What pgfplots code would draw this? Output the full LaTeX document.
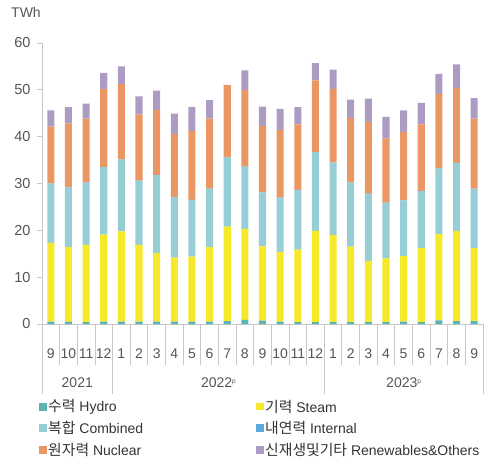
\documentclass[border=0pt]{standalone}
\usepackage{pgfplots}
\pgfplotsset{compat=1.18}
\usepackage{pgfplotstable}
\usepackage{fontspec}
\setmainfont{Liberation Sans}
\newfontfamily\kr[Scale=1.06]{Noto Sans CJK KR}
\definecolor{chydro}{HTML}{5BB3B5}
\definecolor{csteam}{HTML}{F5E92A}
\definecolor{ccomb}{HTML}{97CED5}
\definecolor{cint}{HTML}{5AAADD}
\definecolor{cnuc}{HTML}{EB9764}
\definecolor{cren}{HTML}{AC9CC3}
\definecolor{axgray}{HTML}{C8C8C8}
\definecolor{txtgray}{HTML}{555555}
\definecolor{legtxt}{HTML}{333333}
\newcommand{\fs}{\fontsize{14pt}{16pt}\selectfont}
\newcommand{\fy}{\fontsize{14.5pt}{16pt}\selectfont}
\newcommand{\supp}{\raisebox{4.5pt}{\fontsize{6.5pt}{7pt}\selectfont p}}
\pgfplotstableread{
x hydro steam comb internal nuc ren
0 0.5 16.8 12.7 0.03 12.1 3.5
1 0.5 15.9 12.8 0.03 13.6 3.5
2 0.4 16.5 13.3 0.03 13.6 3.2
3 0.5 18.6 14.4 0.03 16.6 3.5
4 0.5 19.3 15.3 0.03 16.1 3.8
5 0.5 16.4 13.7 0.03 14.1 3.9
6 0.5 14.7 16.6 0.03 13.9 4.1
7 0.5 13.7 12.8 0.03 13.5 4.4
8 0.5 13.9 12.1 0.03 14.7 5.1
9 0.5 15.9 12.5 0.03 14.9 4.0
10 0.6 20.2 14.8 0.03 15.4 0.05
11 0.9 19.4 13.3 0.03 16.3 4.2
12 0.7 15.9 11.5 0.03 14.2 4.1
13 0.5 14.9 11.6 0.03 14.4 4.5
14 0.4 15.5 12.7 0.03 14.0 3.7
15 0.4 19.5 16.8 0.03 15.3 3.7
16 0.4 18.6 15.5 0.03 15.7 4.1
17 0.4 16.1 13.7 0.03 13.8 3.9
18 0.4 13.1 14.3 0.03 15.3 5.0
19 0.4 13.6 11.9 0.03 13.7 4.6
20 0.5 14.0 11.9 0.03 14.6 4.6
21 0.4 15.8 12.2 0.03 14.2 4.6
22 0.8 18.4 14.0 0.03 15.9 4.3
23 0.6 19.3 14.5 0.03 16.0 5.0
24 0.6 15.6 12.7 0.03 14.9 4.4
}\data
\begin{document}
\begin{tikzpicture}
\useasboundingbox (0,0) rectangle (489pt,464pt);
\begin{axis}[
  at={(42pt,140pt)}, anchor=south west,
  scale only axis, width=441pt, height=281pt,
  xmin=-0.5, xmax=24.5, ymin=0, ymax=60,
  enlargelimits=false, clip=false,
  ybar stacked, bar width=0.4,
  axis x line*=bottom, axis y line*=left,
  axis line style={color=axgray, line width=0.8pt, -},
  ytick={0,10,...,60},
  y tick style={color=axgray, line width=0.8pt},
  tick align=outside, major tick length=5pt,
  xtick={0,...,24},
  xticklabels={9,10,11,12,1,2,3,4,5,6,7,8,9,10,11,12,1,2,3,4,5,6,7,8,9},
  x tick style={draw=none},
  xticklabel style={anchor=base, yshift=-29pt, font=\fs, text=txtgray},
  yticklabel style={font=\fy, text=txtgray, xshift=-3pt},
  /pgf/number format/assume math mode=true,
]
\addplot[fill=chydro, draw=none] table[x=x, y=hydro] {\data};
\addplot[fill=csteam, draw=none] table[x=x, y=steam] {\data};
\addplot[fill=ccomb, draw=none] table[x=x, y=comb] {\data};
\addplot[fill=cint, draw=none] table[x=x, y=internal] {\data};
\addplot[fill=cnuc, draw=none] table[x=x, y=nuc] {\data};
\addplot[fill=cren, draw=none] table[x=x, y=ren] {\data};
\pgfplotsinvokeforeach{0.5,1.5,2.5,4.5,5.5,6.5,7.5,8.5,9.5,10.5,11.5,12.5,13.5,14.5,16.5,17.5,18.5,19.5,20.5,21.5,22.5,23.5}{
  \draw[axgray, line width=0.8pt] (axis cs:#1,0) -- ([yshift=-41pt]axis cs:#1,0);
}
\pgfplotsinvokeforeach{-0.5,3.5,15.5,24.5}{
  \draw[axgray, line width=0.8pt] (axis cs:#1,0) -- ([yshift=-70pt]axis cs:#1,0);
}
\node[font=\fs, text=txtgray] at ([yshift=-59pt]axis cs:1.5,0) {2021};
\node[font=\fs, text=txtgray] at ([yshift=-59pt]axis cs:9.5,0) {2022\supp};
\node[font=\fs, text=txtgray] at ([yshift=-59pt]axis cs:20,0) {2023\supp};
\end{axis}
\node[anchor=west, inner sep=0, font=\fs, text=txtgray] at (11pt,452pt) {TWh};
% legend
\fill[chydro] (39pt,53pt) rectangle ++(8pt,8pt);
\node[anchor=west, inner sep=0, font=\fs, text=legtxt] at (48pt,57pt) {{\kr 수력} Hydro};
\fill[ccomb] (39pt,32pt) rectangle ++(8pt,8pt);
\node[anchor=west, inner sep=0, font=\fs, text=legtxt] at (48pt,36pt) {{\kr 복합} Combined};
\fill[cnuc] (39pt,10pt) rectangle ++(8pt,8pt);
\node[anchor=west, inner sep=0, font=\fs, text=legtxt] at (48pt,14pt) {{\kr 원자력} Nuclear};
\fill[csteam] (256pt,54pt) rectangle ++(8pt,7pt);
\node[anchor=west, inner sep=0, font=\fs, text=legtxt] at (265pt,57pt) {{\kr 기력} Steam};
\fill[cint] (256pt,32pt) rectangle ++(8pt,8pt);
\node[anchor=west, inner sep=0, font=\fs, text=legtxt] at (265pt,36pt) {{\kr 내연력} Internal};
\fill[cren] (256pt,10pt) rectangle ++(8pt,8pt);
\node[anchor=west, inner sep=0, font=\fs, text=legtxt] at (265pt,14pt) {{\kr 신재생및기타} Renewables\&Others};
\end{tikzpicture}
\end{document}
